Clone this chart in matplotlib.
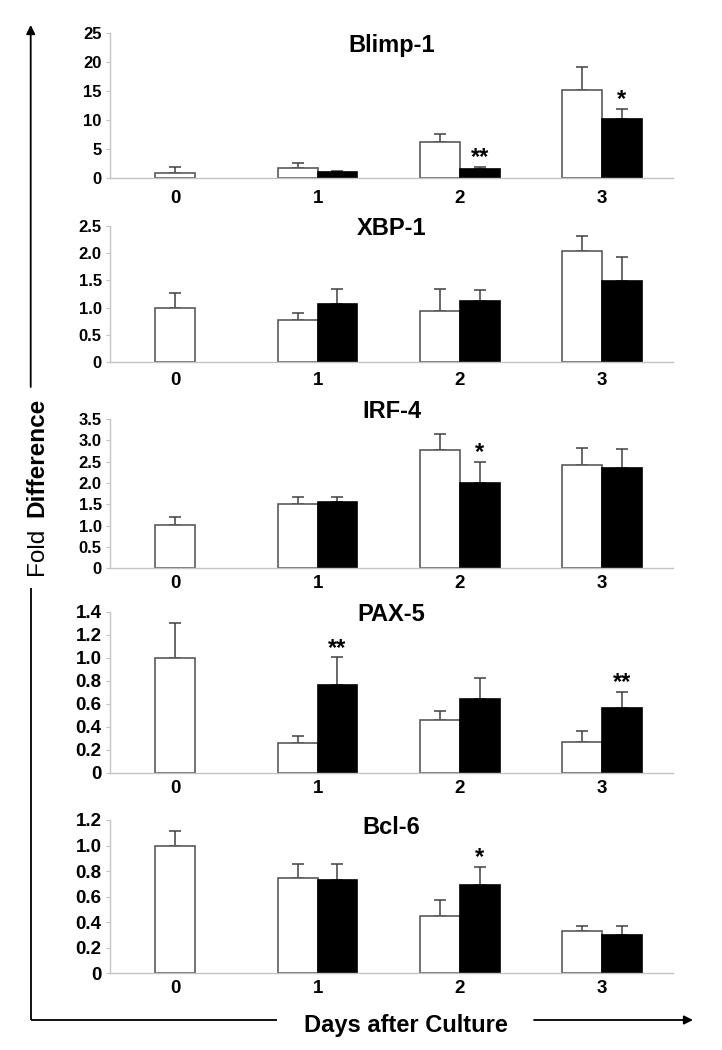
import numpy as np
import matplotlib
matplotlib.use("Agg")
import matplotlib.pyplot as plt

plt.rcParams['font.family'] = ['Liberation Sans', 'DejaVu Sans']

days = [0, 1, 2, 3]
day_labels = ['0', '1', '2', '3']
genes = ['Blimp-1', 'XBP-1', 'IRF-4', 'PAX-5', 'Bcl-6']

# white bars (day 0 only has the white bar)
white_mean = [
    [1.0, 1.72, 6.2, 15.3],
    [1.0, 0.77, 0.945, 2.04],
    [1.01, 1.51, 2.77, 2.42],
    [1.0, 0.258, 0.458, 0.264],
    [1.0, 0.743, 0.446, 0.329],
]
white_err = [
    [0.87, 0.87, 1.5, 3.9],
    [0.26, 0.14, 0.39, 0.28],
    [0.19, 0.17, 0.39, 0.41],
    [0.30, 0.058, 0.076, 0.10],
    [0.116, 0.11, 0.125, 0.04],
]
black_mean = [
    [1.03, 1.6, 10.3],
    [1.07, 1.12, 1.49],
    [1.56, 2.01, 2.35],
    [0.762, 0.64, 0.56],
    [0.728, 0.694, 0.30],
]
black_err = [
    [0.23, 0.3, 1.7],
    [0.28, 0.2, 0.44],
    [0.12, 0.49, 0.44],
    [0.24, 0.18, 0.14],
    [0.13, 0.14, 0.07],
]
ymax = [25, 2.5, 3.5, 1.4, 1.2]
ystep = [5, 0.5, 0.5, 0.2, 0.2]
# (panel, day, stars) - all marks sit on the black bar
stars = [(0, 2, '**'), (0, 3, '*'), (2, 2, '*'), (3, 1, '**'), (3, 3, '**'), (4, 2, '*')]

# layout in pixels: (y of top tick, y of zero line), title baseline, label pad
W, H = 722, 1050
ax_left, ax_right = 110, 673
panel_px = [(33.3, 178.3), (225.7, 362.3), (419, 568.3), (611.7, 772.7), (820, 973.3)]
title_base = [51.7, 235, 418.3, 620.7, 834]
cat_pad = [8.6, 7.0, 4.8, 5.3, 4.8]
tick_fs = [12, 12, 12, 13.5, 13.5]

fig = plt.figure(figsize=(W / 100, H / 100), dpi=100)
bw = 0.28
grey = '#c4c4c4'

for i, gene in enumerate(genes):
    top, zero = panel_px[i]
    ax = fig.add_axes([ax_left / W, 1 - zero / H, (ax_right - ax_left) / W, (zero - top) / H])
    xw = np.array([d - bw / 2 if d > 0 else 0 for d in days])
    xb = np.array(days[1:]) + bw / 2
    ax.bar(xw, white_mean[i], width=bw, color='white', edgecolor='#5a5a5a', linewidth=1.2, zorder=2)
    ax.bar(xb, black_mean[i], width=bw, color='black', edgecolor='black', linewidth=1.2, zorder=2)
    ax.errorbar(xw, white_mean[i], yerr=[np.zeros(4), white_err[i]], fmt='none',
                ecolor='#404040', elinewidth=1.1, capsize=4.5, capthick=1.1, zorder=1)
    ax.errorbar(xb, black_mean[i], yerr=[np.zeros(3), black_err[i]], fmt='none',
                ecolor='#404040', elinewidth=1.1, capsize=4.5, capthick=1.1, zorder=1)

    ax.set_xlim(-0.46, 3.5)
    ax.set_ylim(0, ymax[i])
    ticks = np.arange(0, ymax[i] + ystep[i] / 2, ystep[i])
    ax.set_yticks(ticks)
    if ystep[i] >= 1:
        ax.set_yticklabels([f'{t:.0f}' for t in ticks])
    else:
        ax.set_yticklabels(['0' if t == 0 else f'{t:.1f}' for t in ticks])
    ax.set_xticks(days)
    ax.set_xticklabels(day_labels)
    for s in ['top', 'right']:
        ax.spines[s].set_visible(False)
    for s in ['left', 'bottom']:
        ax.spines[s].set_color(grey)
        ax.spines[s].set_linewidth(1.0)
    ax.tick_params(axis='y', length=3, color=grey, pad=3, labelsize=tick_fs[i])
    ax.tick_params(axis='x', length=0, pad=cat_pad[i], labelsize=13.5)
    for lab in ax.get_xticklabels() + ax.get_yticklabels():
        lab.set_fontweight('bold')

    fig.text((ax_left + ax_right) / 2 / W, 1 - title_base[i] / H, gene,
             ha='center', va='baseline', fontsize=17, fontweight='bold')

    for p, d, s in stars:
        if p == i:
            k = d - 1
            ax.annotate(s, xy=(xb[k], black_mean[i][k] + black_err[i][k]),
                        xytext=(0, 2), textcoords='offset points',
                        ha='center', va='baseline', fontsize=17, fontweight='bold')

# outer arrows and axis titles, drawn in pixel coordinates
ov = fig.add_axes([0, 0, 1, 1])
ov.set_xlim(0, W)
ov.set_ylim(H, 0)
ov.axis('off')
lx, ly = 30.7, 1020
arrow = dict(arrowstyle='-|>', color='black', lw=1.3, mutation_scale=13, shrinkA=0, shrinkB=0)
ov.plot([lx, lx], [588, ly], color='black', lw=1.3, solid_capstyle='butt')
ov.annotate('', xy=(lx, 25), xytext=(lx, 387), arrowprops=arrow)
ov.plot([lx, 276.7], [ly, ly], color='black', lw=1.3, solid_capstyle='butt')
ov.annotate('', xy=(693, ly), xytext=(534, ly), arrowprops=arrow)

ov.text(405.5, 1031.7, 'Days after Culture', ha='center', va='baseline',
        fontsize=17, fontweight='bold')
ov.text(43, 575, 'Fold', rotation=90, rotation_mode='anchor',
        ha='left', va='baseline', fontsize=17.5)
ov.text(43, 516.7, 'Difference', rotation=90, rotation_mode='anchor',
        ha='left', va='baseline', fontsize=17.5, fontweight='bold')

fig.savefig('out.png', dpi=100)
